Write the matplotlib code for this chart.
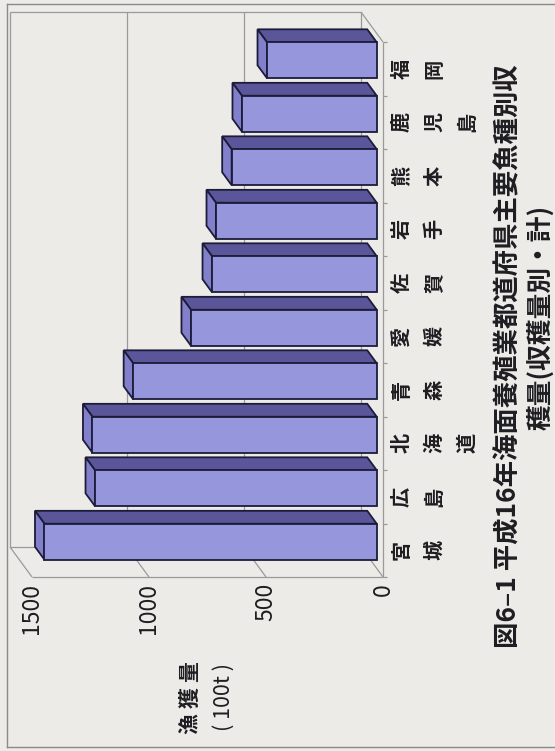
import matplotlib.pyplot as plt
from matplotlib.patches import Polygon
from matplotlib.lines import Line2D

plt.rcParams['font.family'] = ['Noto Sans CJK JP', 'DejaVu Sans']

# 都道府県（グラフ下から順）と収穫量（単位 100t）
prefs = ["宮城", "広島", "北海道", "青森", "愛媛", "佐賀", "岩手", "熊本", "鹿児島", "福岡"]
harvest = [1420, 1204, 1215, 1041, 794, 704, 687, 620, 576, 469]
value_ticks = [0, 500, 1000, 1500]
value_max = 1500

title_line1 = "図6–1 平成16年海面養殖業都道府県主要魚種別収"
title_line2 = "穫量(収穫量別・計)"
axis_label = "漁獲量"
axis_unit = "( 100t )"

# ---- layout (pixels) ----
W, H = 555, 751
BG = "#ecebe7"
GRID = "#9a9a9a"
INK = "#1e1e22"
FRONT = "#9696dc"
TOP = "#5a5699"
CAP = "#8380cb"
EDGE = "#1c1c3a"

X0, X1 = 383, 32        # front plane: value 0 / value_max
Y0, Y1 = 577, 42        # front plane: bottom / top of category range
DEPTH_PX = (22, 30)     # shift toward the back wall (left, up)
BAR_F0, BAR_F1 = 0.285, 0.715
BAR_HALF = 0.336


def fx(x):
    return x / W


def fy(y):
    return 1 - y / H


fig = plt.figure(figsize=(W / 100, H / 100), dpi=100, facecolor=BG)
ax = fig.add_axes([fx(X1), fy(Y0), (X0 - X1) / W, (Y0 - Y1) / H])
n = len(prefs)
ax.set_xlim(value_max, 0)
ax.set_ylim(-0.5, n - 0.5)
ax.axis("off")

depth_x = DEPTH_PX[0] * value_max / (X0 - X1)
depth_y = DEPTH_PX[1] * n / (Y0 - Y1)


def P(v, c, f=0.0):
    return (v + f * depth_x, c + f * depth_y)


def seg(a, b, **kw):
    ax.plot([a[0], b[0]], [a[1], b[1]], clip_on=False, solid_capstyle="butt", **kw)


wall = dict(color=GRID, lw=0.9, zorder=1)

# back wall outline + gridlines
lo, hi = -0.5, n - 0.5
seg(P(0, lo, 1), P(value_max, lo, 1), **wall)
seg(P(value_max, lo, 1), P(value_max, hi, 1), **wall)
seg(P(value_max, hi, 1), P(0, hi, 1), **wall)
seg(P(0, hi, 1), P(0, lo, 1), **wall)
for v in value_ticks[1:-1]:
    seg(P(v, lo, 1), P(v, hi, 1), **wall)

# side wall (value axis side)
seg(P(0, lo), P(value_max, lo), **wall)
for v in value_ticks:
    seg(P(v, lo), P(v, lo, 1), **wall)

# floor (category axis side)
seg(P(0, lo), P(0, hi), **wall)
seg(P(0, hi), P(0, hi, 1), **wall)
tick_len = 4 * value_max / (X0 - X1)
for k in range(n + 1):
    seg(P(0, k - 0.5), P(-tick_len, k - 0.5), **wall)

# 3D bars
for i, v in enumerate(harvest):
    c0, c1 = i - BAR_HALF, i + BAR_HALF
    top = [P(0, c1, BAR_F0), P(v, c1, BAR_F0), P(v, c1, BAR_F1), P(0, c1, BAR_F1)]
    cap = [P(v, c0, BAR_F0), P(v, c1, BAR_F0), P(v, c1, BAR_F1), P(v, c0, BAR_F1)]
    front = [P(0, c0, BAR_F0), P(v, c0, BAR_F0), P(v, c1, BAR_F0), P(0, c1, BAR_F0)]
    for pts, col in ((top, TOP), (cap, CAP), (front, FRONT)):
        ax.add_patch(Polygon(pts, closed=True, fc=col, ec=EDGE, lw=1.3,
                             joinstyle="miter", clip_on=False, zorder=3))

# value tick labels
xt = ax.get_xaxis_transform()
for v in value_ticks:
    ax.text(v, -6 / (Y0 - Y1), str(v), transform=xt, rotation=90,
            ha="center", va="top", fontsize=16.5, color=INK)

# category labels, one glyph per line
yt = ax.get_yaxis_transform()
for i, name in enumerate(prefs):
    for k, ch in enumerate(name):
        ax.text((401 + 33 * k - X1) / (X0 - X1), i, ch, transform=yt,
                rotation=90, ha="center", va="center", fontsize=14.5,
                fontweight="bold", color=INK)

# value axis label
for k, ch in enumerate(axis_label):
    fig.text(fx(190), fy(724 - 26 * k), ch, rotation=90, ha="center",
             va="center", fontsize=15, fontweight="bold", color=INK)
fig.text(fx(224), fy(731), axis_unit, rotation=90, ha="center", va="bottom",
         fontsize=15.5, color=INK)

# caption
fig.text(fx(509), fy(648), title_line1, rotation=90, ha="center", va="bottom",
         fontsize=19, fontweight="bold", color=INK)
fig.text(fx(541), fy(430), title_line2, rotation=90, ha="center", va="bottom",
         fontsize=18.5, fontweight="bold", color=INK)

# outer frame
frame = dict(color="#8a8a8a", lw=1.0, transform=fig.transFigure)
fig.add_artist(Line2D([fx(7), fx(7)], [fy(4), fy(747)], **frame))
fig.add_artist(Line2D([fx(7), fx(W)], [fy(4), fy(4)], **frame))
fig.add_artist(Line2D([fx(7), fx(W)], [fy(747), fy(747)], **frame))

fig.savefig("out.png", dpi=100, facecolor=BG)
